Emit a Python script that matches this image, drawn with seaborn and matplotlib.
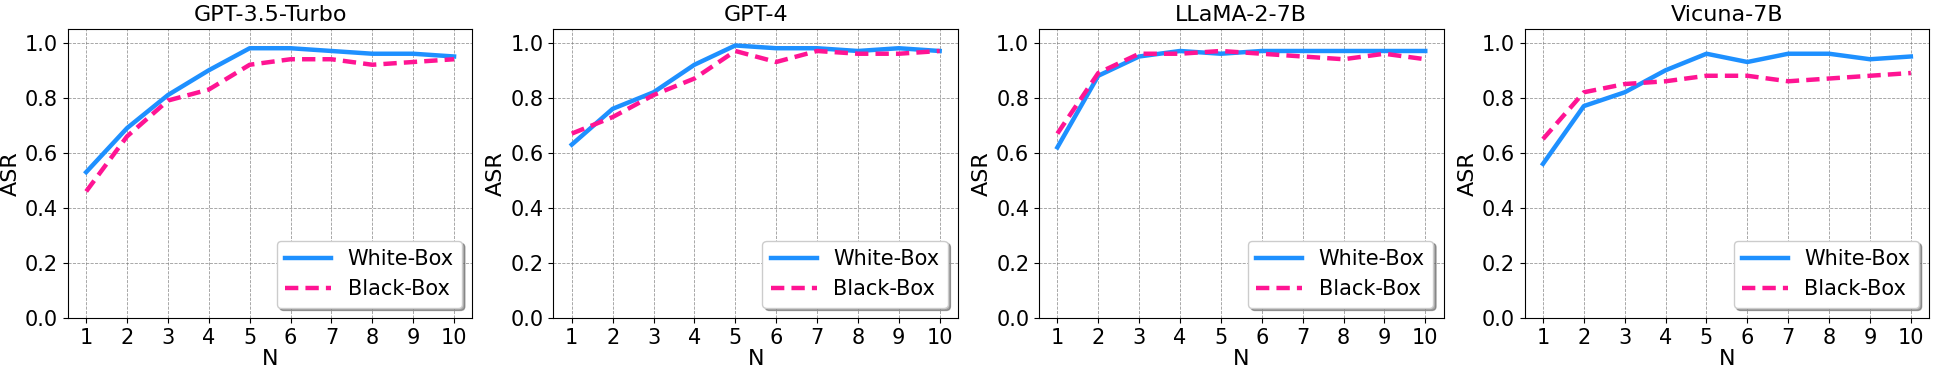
import pandas as pd
import matplotlib.pyplot as plt
import seaborn as sns
import numpy as np

# values
n_values = [1, 2, 3, 4, 5, 6, 7, 8, 9, 10]
models = ['GPT-3.5-Turbo', 'GPT-4', 'LLaMA-2-7B', 'Vicuna-7B']

gpt35_white = [0.53, 0.69, 0.81, 0.90, 0.98, 0.98, 0.97, 0.96, 0.96, 0.95]
gpt35_black = [0.46, 0.66, 0.79, 0.83, 0.92, 0.94, 0.94, 0.92, 0.93, 0.94]
gpt4_white = [0.63, 0.76, 0.82, 0.92, 0.99, 0.98, 0.98, 0.97, 0.98, 0.97]
gpt4_black = [0.67, 0.73, 0.81, 0.87, 0.97, 0.93, 0.97, 0.96, 0.96, 0.97]
llama_white = [0.62, 0.88, 0.95, 0.97, 0.96, 0.97, 0.97, 0.97, 0.97, 0.97]
llama_black = [0.67, 0.89, 0.96, 0.96, 0.97, 0.96, 0.95, 0.94, 0.96, 0.94]
vicuna_white = [0.56, 0.77, 0.82, 0.90, 0.96, 0.93, 0.96, 0.96, 0.94, 0.95]
vicuna_black = [0.65, 0.82, 0.85, 0.86, 0.88, 0.88, 0.86, 0.87, 0.88, 0.89]

series = {
    'GPT-3.5-Turbo': (gpt35_white, gpt35_black),
    'GPT-4': (gpt4_white, gpt4_black),
    'LLaMA-2-7B': (llama_white, llama_black),
    'Vicuna-7B': (vicuna_white, vicuna_black),
}

rows = []
for m in models:
    w, b = series[m]
    for n, v in zip(n_values, w):
        rows.append({'Model': m, 'N': n, 'ASR': v, 'Setting': 'White-Box'})
    for n, v in zip(n_values, b):
        rows.append({'Model': m, 'N': n, 'ASR': v, 'Setting': 'Black-Box'})
df = pd.DataFrame(rows)

palette = {'White-Box': '#1E90FF', 'Black-Box': '#FF1493'}
dashes = {'White-Box': '', 'Black-Box': (3, 1.6)}
fs = 15

fig, axes = plt.subplots(1, 4, figsize=(19.37, 3.76), dpi=100)
for ax, m in zip(axes, models):
    sub = df[df['Model'] == m]
    sns.lineplot(data=sub, x='N', y='ASR', hue='Setting', style='Setting',
                 palette=palette, dashes=dashes, linewidth=3.2, ax=ax)
    ax.set_title(m, fontsize=16)
    ax.set_xlabel('N', fontsize=16, labelpad=1)
    ax.set_ylabel('ASR', fontsize=16, labelpad=3)
    ax.set_ylim(0, 1.05)
    ax.set_xlim(0.55, 10.45)
    ax.set_xticks(n_values)
    ax.set_yticks(np.arange(0, 1.01, 0.2))
    ax.tick_params(labelsize=fs)
    ax.grid(True, linestyle='--', color='gray', linewidth=0.6, alpha=0.8)
    ax.legend(loc='lower right', fontsize=fs, shadow=True, handlelength=2.2)

plt.subplots_adjust(left=0.035, right=0.996, bottom=0.154, top=0.923, wspace=0.2)
plt.savefig('out.png', dpi=100)
